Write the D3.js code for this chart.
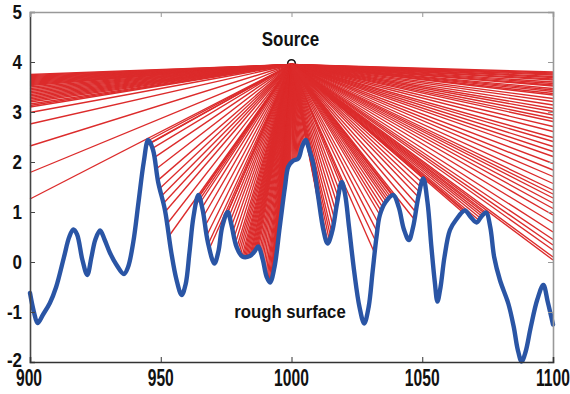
<!DOCTYPE html>
<html><head><meta charset="utf-8">
<script src="https://cdn.jsdelivr.net/npm/d3@7"></script>
<style>body{margin:0;background:#fff}</style></head>
<body>
<svg id="c" width="570" height="394"></svg>
<script>
// ---- data ----
const surfaceX = [900,901.5,902.9,905,907.6,910,913,915,916.6,918,920,921.9,923.5,925,926.8,928.5,930.6,933,935.9,937.5,939.5,941.5,943.5,945.2,947,949,951.6,954,956,958,959.5,961,962.5,964.4,966,968,970.5,972,973.5,975.6,977,979,981.2,984.1,986,987.3,989,990.5,991.8,993.5,995.5,997.5,998.8,1000.5,1002.6,1004,1005.4,1007,1008.3,1010.2,1012.2,1013.8,1015.5,1017.5,1019.2,1020.5,1022,1024,1026,1027.8,1029.5,1031,1032.5,1033.8,1036,1038.9,1041,1043,1044.9,1046.5,1048.5,1050.4,1052,1053.5,1054.8,1055.8,1057,1058.5,1060.6,1063,1066.3,1068.5,1070.8,1072.5,1074.4,1076,1077.5,1079.7,1082.9,1085,1086.5,1088,1089.5,1091.5,1094,1096.3,1098,1100];
const surfaceY = [-0.62,-1.0,-1.22,-1.05,-0.82,-0.5,0.1,0.5,0.65,0.55,0.05,-0.26,0.1,0.45,0.63,0.45,0.18,-0.05,-0.24,-0.1,0.4,1.2,2.0,2.44,2.25,1.6,1.04,0.2,-0.35,-0.66,-0.45,0.2,0.9,1.34,1.05,0.4,-0.03,0.2,0.7,1.0,0.75,0.3,0.11,0.12,0.22,0.31,0.05,-0.3,-0.41,-0.1,0.7,1.5,1.91,2.02,2.07,2.3,2.44,2.2,1.97,1.31,0.64,0.37,0.6,1.2,1.6,1.35,0.7,-0.2,-0.9,-1.23,-0.9,-0.2,0.5,0.94,1.2,1.34,1.1,0.65,0.44,0.7,1.3,1.67,1.2,0.3,-0.4,-0.79,-0.5,0.1,0.64,0.85,1.03,0.9,0.79,0.9,0.99,0.7,0.1,-0.36,-0.83,-1.3,-1.75,-1.99,-1.8,-1.3,-0.75,-0.46,-0.8,-1.25];
const xTicks = [900,950,1000,1050,1100];
const yTicks = [-2,-1,0,1,2,3,4,5];
const sourcePoint = [1000, 3.95];
const leftEdgeY = [3.75,3.73,3.71,3.69,3.67,3.65,3.63,3.61,3.59,3.57,3.55,3.53,3.5,3.47,3.44,3.41,3.38,3.35,3.32,3.29,3.26,3.23,3.2,3.16,3.13,3.1,2.99,2.76,2.32,1.79,1.26];
const rightEdgeY = [3.8,3.78,3.76,3.74,3.71,3.69,3.66,3.64,3.6,3.57,3.54,3.52,3.47,3.44,3.41,3.37,3.34,3.27,3.21,3.14,3.07,3.01,2.94,2.87,2.81,2.71,2.61,2.49,2.41,2.31,2.21,2.11,1.97,1.84,1.71,1.57,1.44,1.36,1.28,1.18,1.07,0.94,0.78,0.6,0.45,0.34,0.24,0.1,0.04];
const hitX = [944.8,945.3,945.8,946.8,947.5,948.2,948.9,949.6,950.3,951,951.7,952.4,953.1,
  963.6,964.1,964.6,965.2,965.8,966.4,967,967.6,968.2,968.7,
  975.1,975.6,976.1,976.6,977.1,977.6,978.1,978.6,979.1,979.6,980.1,980.6,981.1,981.6,982.1,982.6,983.1,983.6,984.1,984.6,985.1,985.6,986.1,986.6,987.1,987.5,987.9,988.3,988.7,989.1,989.5,989.9,990.3,990.7,991.1,991.5,991.9,992.3,992.7,993.1,993.4,993.7,994,994.3,994.6,994.9,995.2,995.5,995.8,996.1,996.4,996.7,997,997.3,997.6,997.9,998.2,998.5,998.8,999.1,999.4,999.7,
  1000.2,1000.6,1001,1001.4,1001.8,1002.2,1002.6,1003,1003.4,1003.8,1004.2,1004.6,1005,1005.4,
  1012.4,1012.9,1013.4,1013.9,1014.4,1014.9,1015.4,1015.9,1016.4,1016.9,1017.4,1017.9,1018.4,1018.9,1019.2,
  1031.8,1032.3,1032.8,1033.3,1033.8,1034.4,1035,1035.6,1036.2,1036.8,1037.4,1038,1038.6,1039,
  1047,1047.5,1048,1048.5,1049,1049.5,1050,1050.4,
  1065.6,1066,1066.4,1071.6,1072.2,1072.8,1073.4,1074,1074.4];

// ---- drawing ----
const W = 570, H = 394;
const svg = d3.select('#c');
svg.append('rect').attr('width',W).attr('height',H).attr('fill','#fff');
const x = d3.scaleLinear().domain([900,1100]).range([30,553]);
const y = d3.scaleLinear().domain([-2,5]).range([362,12]);
const surf = d3.scaleLinear().domain(surfaceX).range(surfaceY);

const RED = '#dc2b2b', BLUE = '#2a55a5';
const FONT = '"Liberation Sans", Arial, Helvetica, sans-serif';

// source marker
svg.append('circle').attr('cx',x(sourcePoint[0])).attr('cy',y(sourcePoint[1])-1)
  .attr('r',3.8).attr('fill','none').attr('stroke','#111').attr('stroke-width',1.6);

// rays
const ends = leftEdgeY.map(v=>[900,v])
  .concat(rightEdgeY.map(v=>[1100,v]))
  .concat(hitX.map(v=>[v, surf(v)]));
svg.append('g').selectAll('line').data(ends).join('line')
  .attr('x1',x(sourcePoint[0])).attr('y1',y(sourcePoint[1]))
  .attr('x2',d=>x(d[0])).attr('y2',d=>y(d[1]))
  .attr('stroke',RED).attr('stroke-width',1.35);

// surface
const pts = surfaceX.map((v,i)=>[v,surfaceY[i]]);
svg.append('path').datum(pts)
  .attr('d', d3.line().x(d=>x(d[0])).y(d=>y(d[1])).curve(d3.curveCatmullRom.alpha(0.5)))
  .attr('fill','none').attr('stroke',BLUE).attr('stroke-width',4.4)
  .attr('stroke-linejoin','round').attr('stroke-linecap','round');

// axes (MATLAB-like box with inward ticks)
const tl = 5;
const gl = svg.append('g').attr('transform',`translate(${x(900)},0)`)
  .call(d3.axisLeft(y).tickValues(yTicks).tickSize(-tl).tickFormat(''));
gl.select('.domain').attr('stroke','#444').attr('stroke-width',1.6);
gl.selectAll('.tick line').attr('stroke','#444');
const gr = svg.append('g').attr('transform',`translate(${x(1100)},0)`)
  .call(d3.axisRight(y).tickValues(yTicks).tickSize(-tl).tickFormat(''));
gr.select('.domain').attr('stroke','#999').attr('stroke-width',1.6);
gr.selectAll('.tick line').attr('stroke','#999');
const gt = svg.append('g').attr('transform',`translate(0,${y(5)})`)
  .call(d3.axisTop(x).tickValues(xTicks).tickSize(-tl).tickFormat(''));
gt.select('.domain').attr('stroke','#999').attr('stroke-width',1.6);
gt.selectAll('.tick line').attr('stroke','#999');
const gb = svg.append('g').attr('transform',`translate(0,${y(-2)})`)
  .call(d3.axisBottom(x).tickValues(xTicks).tickSize(-tl).tickFormat(''));
gb.select('.domain').attr('stroke','#333').attr('stroke-width',1.6);
gb.selectAll('.tick line').attr('stroke','#333');

// tick labels
svg.append('g').selectAll('text').data(yTicks).join('text')
  .attr('transform',d=>`translate(22,${y(d)+(d===-2?5:7)}) scale(0.85,1)`)
  .attr('text-anchor','end').attr('font-family',FONT).attr('font-weight','bold')
  .attr('font-size',20).attr('fill','#111').text(d=>d);
svg.append('g').selectAll('text').data(xTicks).join('text')
  .attr('transform',d=>`translate(${x(d)+(d===900?-1:0)},386) scale(0.68,1)`)
  .attr('text-anchor','middle').attr('font-family',FONT).attr('font-weight','bold')
  .attr('font-size',23).attr('fill','#111').text(d=>d);

// annotations
svg.append('text').attr('transform','translate(290.5,46) scale(0.87,1)')
  .attr('text-anchor','middle').attr('font-family',FONT).attr('font-weight','bold')
  .attr('font-size',19.5).attr('fill','#111').text('Source');
svg.append('text').attr('transform','translate(290,318) scale(0.88,1)')
  .attr('text-anchor','middle').attr('font-family',FONT).attr('font-weight','bold')
  .attr('font-size',19).attr('fill','#111').text('rough surface');
</script>
</body></html>
